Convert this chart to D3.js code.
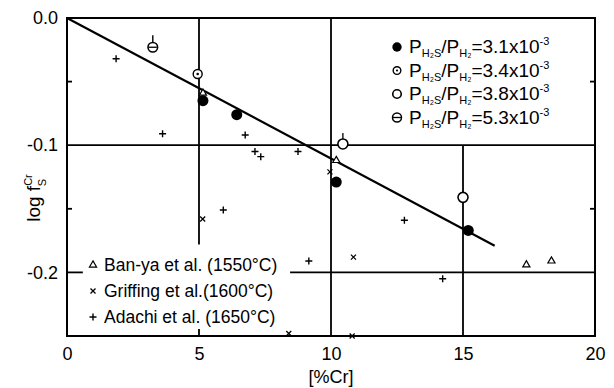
<!DOCTYPE html>
<html>
<head>
<meta charset="utf-8">
<script src="https://cdn.jsdelivr.net/npm/d3@7"></script>
<style>
body { margin: 0; background: #fff; }
svg { font-family: "Liberation Sans", Arial, sans-serif; }
</style>
</head>
<body>
<svg width="614" height="388"></svg>
<script>
// ================= DATA =================
const xTicks = [0, 5, 10, 15, 20];
const yTicks = [0, -0.1, -0.2];
const fitLine = [[0, 0], [16.2, -0.179]];

// [%Cr, log f]
const p31 = [[5.15, -0.065], [6.43, -0.076], [10.2, -0.129], [15.2, -0.167]];
const p34 = [[4.95, -0.044]];
const p38 = [[10.45, -0.099], [15.0, -0.141]];
const p53 = [[3.25, -0.023]];
const banya = [[5.15, -0.059], [10.2, -0.112], [17.4, -0.194], [18.35, -0.191]];
const griffing = [[9.96, -0.121], [5.14, -0.158], [10.85, -0.188], [8.4, -0.248], [10.8, -0.25]];
const adachi = [[1.86, -0.032], [3.62, -0.091], [6.75, -0.092], [7.12, -0.105], [7.34, -0.109],
                [8.75, -0.105], [5.92, -0.151], [12.78, -0.159], [9.16, -0.191], [14.23, -0.205]];

const ratioLabels = ["3.1", "3.4", "3.8", "5.3"];
const refLabels = ["Ban-ya et al.  (1550°C)", "Griffing et al.(1600°C)", "Adachi  et al. (1650°C)"];
// =========================================

const svg = d3.select("svg");
const x = d3.scaleLinear().domain([0, 20]).range([67, 595]);
const y = d3.scaleLinear().domain([-0.25, 0]).range([336, 18]);

// grid lines (partial, as in the figure)
const grid = svg.append("g").attr("stroke", "#000").attr("stroke-width", 1.8);
grid.append("line").attr("x1", x(5)).attr("x2", x(5)).attr("y1", y(0)).attr("y2", y(-0.178));
grid.append("line").attr("x1", x(10)).attr("x2", x(10)).attr("y1", y(0)).attr("y2", y(-0.25));
grid.append("line").attr("x1", x(15)).attr("x2", x(15)).attr("y1", y(-0.1)).attr("y2", y(-0.25));
grid.append("line").attr("x1", x(0)).attr("x2", x(20)).attr("y1", y(-0.1)).attr("y2", y(-0.1));
grid.append("line").attr("x1", x(0)).attr("x2", x(0.6)).attr("y1", y(-0.2)).attr("y2", y(-0.2));
grid.append("line").attr("x1", x(8.45)).attr("x2", x(20)).attr("y1", y(-0.2)).attr("y2", y(-0.2));

// minor ticks
[-0.05, -0.15].forEach(v => {
  grid.append("line").attr("x1", x(0)).attr("x2", x(0) + 5).attr("y1", y(v)).attr("y2", y(v));
  grid.append("line").attr("x1", x(20)).attr("x2", x(20) - 5).attr("y1", y(v)).attr("y2", y(v));
});
grid.append("line").attr("x1", x(5)).attr("x2", x(5)).attr("y1", y(-0.25)).attr("y2", y(-0.25) - 7);

// frame
svg.append("rect")
  .attr("x", x(0)).attr("y", y(0))
  .attr("width", x(20) - x(0)).attr("height", y(-0.25) - y(0))
  .attr("fill", "none").attr("stroke", "#000").attr("stroke-width", 2);

// axes labels
svg.append("g")
  .attr("transform", "translate(0," + (y(-0.25) + 8) + ")")
  .call(d3.axisBottom(x).tickValues(xTicks).tickSize(0).tickFormat(d3.format("d")))
  .call(g => g.select(".domain").remove())
  .selectAll("text").attr("font-size", 18).attr("font-family", "Liberation Sans").attr("fill", "#000");

svg.append("g")
  .attr("transform", "translate(" + (x(0) - 6) + ",0)")
  .call(d3.axisLeft(y).tickValues(yTicks).tickSize(0).tickFormat(d => d.toFixed(1)))
  .call(g => g.select(".domain").remove())
  .selectAll("text").attr("font-size", 18).attr("font-family", "Liberation Sans").attr("fill", "#000");

svg.append("text").attr("x", x(10)).attr("y", 383).attr("text-anchor", "middle")
  .attr("font-size", 18).text("[%Cr]");

const yl = svg.append("text").attr("transform", "translate(40,198) rotate(-90)")
  .attr("text-anchor", "middle").attr("font-size", 19);
yl.append("tspan").text("log f");
yl.append("tspan").attr("font-size", 11).attr("dy", -8).text("Cr");
yl.append("tspan").attr("font-size", 11).attr("dx", -12).attr("dy", 14).text("S");

// regression line
svg.append("path").datum(fitLine)
  .attr("d", d3.line().x(d => x(d[0])).y(d => y(d[1])))
  .attr("stroke", "#000").attr("stroke-width", 2.2).attr("fill", "none");

// marker drawing
function circles(data, cls) {
  return svg.append("g").selectAll("g").data(data).join("g")
    .attr("class", cls)
    .attr("transform", d => "translate(" + x(d[0]) + "," + y(d[1]) + ")");
}
function filled(sel) { sel.append("circle").attr("r", 5.5).attr("fill", "#000"); }
function dotted(sel) {
  sel.append("circle").attr("r", 4.5).attr("fill", "#fff").attr("stroke", "#000").attr("stroke-width", 1.4);
  sel.append("circle").attr("r", 1.3).attr("fill", "#000");
}
function open(sel) { sel.append("circle").attr("r", 5).attr("fill", "#fff").attr("stroke", "#000").attr("stroke-width", 1.6); }
function theta(sel) {
  sel.append("line").attr("x1", 0).attr("x2", 0).attr("y1", -5).attr("y2", -12).attr("stroke", "#000").attr("stroke-width", 1.4);
  sel.append("circle").attr("r", 4.8).attr("fill", "#fff").attr("stroke", "#000").attr("stroke-width", 1.6);
  sel.append("line").attr("x1", -4).attr("x2", 4).attr("y1", 0).attr("y2", 0).attr("stroke", "#000").attr("stroke-width", 1.3);
}
function tri(sel) {
  sel.append("path").attr("d", d3.symbol(d3.symbolTriangle, 22)())
    .attr("fill", "#fff").attr("stroke", "#000").attr("stroke-width", 1.2);
}
function cross(sel) {
  sel.append("path").attr("d", "M-2.5,-2.5L2.5,2.5M-2.5,2.5L2.5,-2.5")
    .attr("stroke", "#000").attr("stroke-width", 1.3);
}
function plus(sel) {
  sel.append("path").attr("d", "M-3.5,0L3.5,0M0,-3.5L0,3.5")
    .attr("stroke", "#000").attr("stroke-width", 1.4);
}

circles(p31, "p31").call(filled);
circles(p34, "p34").call(dotted);
circles(p38, "p38").call(open);
svg.select(".p38").append("line").attr("x1", 0).attr("x2", 0).attr("y1", -5).attr("y2", -11).attr("stroke", "#000").attr("stroke-width", 1.3);
circles(p53, "p53").call(theta);
circles(banya, "banya").call(tri);
circles(griffing, "griffing").call(cross);
circles(adachi, "adachi").call(plus);

// legend (top right)
const legMarks = [filled, dotted, open, theta];
const leg = svg.append("g").attr("transform", "translate(397,47)");
ratioLabels.forEach((lab, i) => {
  const row = leg.append("g").attr("transform", "translate(0," + (i * 23.5) + ")");
  const m = row.append("g");
  if (i === 3) {
    m.append("circle").attr("r", 4.5).attr("fill", "#fff").attr("stroke", "#000").attr("stroke-width", 1.5);
    m.append("line").attr("x1", -4).attr("x2", 4).attr("stroke", "#000").attr("stroke-width", 1.3);
  } else {
    legMarks[i](m);
    m.selectAll("circle").attr("r", function() { return +d3.select(this).attr("r") * 0.85; });
  }
  const t = row.append("text").attr("x", 12).attr("y", 6).attr("font-size", 19);
  t.append("tspan").text("P");
  t.append("tspan").attr("font-size", 11).attr("dy", 4).text("H₂S");
  t.append("tspan").attr("dy", -4).text("/P");
  t.append("tspan").attr("font-size", 11).attr("dy", 4).text("H₂");
  t.append("tspan").attr("dy", -4).text("=" + lab + "x10");
  t.append("tspan").attr("font-size", 11).attr("dy", -8).text("-3");
});

// legend (bottom left)
const refMarks = [tri, cross, plus];
const leg2 = svg.append("g").attr("transform", "translate(93,265)");
refLabels.forEach((lab, i) => {
  const row = leg2.append("g").attr("transform", "translate(0," + (i * 26) + ")");
  refMarks[i](row.append("g"));
  row.append("text").attr("x", 11).attr("y", 6).attr("font-size", 17.5).text(lab);
});
</script>
</body>
</html>
